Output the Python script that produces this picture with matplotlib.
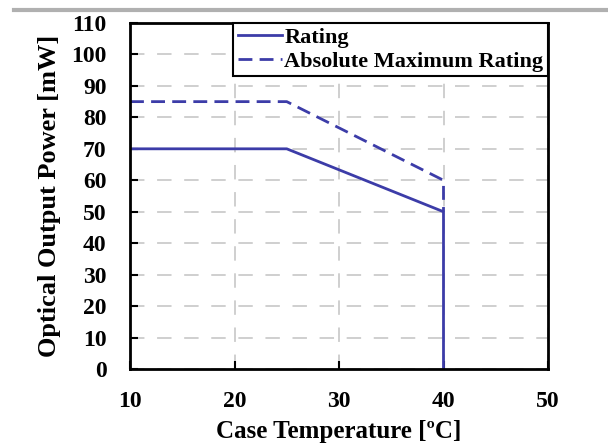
import matplotlib
matplotlib.use("Agg")
import matplotlib.pyplot as plt
from matplotlib.lines import Line2D

temp_rating = [10, 25, 40, 40]
power_rating = [70, 70, 50, 0]
temp_absmax = [10, 25, 40, 40]
power_absmax = [85, 85, 60, 50]
xticks = [10, 20, 30, 40, 50]
yticks = [0, 10, 20, 30, 40, 50, 60, 70, 80, 90, 100, 110]
labels = ["Rating", "Absolute Maximum Rating"]

plt.rcParams['font.family'] = ['Liberation Serif', 'DejaVu Serif']
plt.rcParams['font.weight'] = 'bold'

fig = plt.figure(figsize=(6.08, 4.47), dpi=100)
ax = fig.add_axes([130/608, 1-369/447, 418/608, 346/447])

color = '#3c3ca8'
ax.plot(temp_rating, power_rating, color=color, lw=2.0, label=labels[0])
ax.plot(temp_absmax, power_absmax, color=color, lw=2.0, ls=(0, (5.0, 2.6)), label=labels[1])

ax.set_xlim(10, 50)
ax.set_ylim(0, 110)
ax.set_xticks(xticks)
ax.set_yticks(yticks)
ax.grid(True, color='#cccccc', ls=(0, (8, 7)), lw=1.3)
ax.set_axisbelow(True)
ax.tick_params(direction='in', length=6, width=1.5, labelsize=17)
ax.tick_params(axis='x', pad=16)
ax.tick_params(axis='y', pad=17)
for lab in ax.get_xticklabels() + ax.get_yticklabels():
    lab.set_fontweight('bold')
for s in ax.spines.values():
    s.set_linewidth(2.0)

ax.set_xlabel("Case Temperature [ºC]", fontsize=18, fontweight='bold')
ax.xaxis.set_label_coords(0.5, -0.146)
ax.set_ylabel("Optical Output Power [mW]", fontsize=19, fontweight='bold')
ax.yaxis.set_label_coords(-0.165, 0.5)

leg = ax.legend(loc='upper right', borderaxespad=0, fancybox=False, framealpha=1,
                edgecolor='black', prop={'weight': 'bold', 'size': 16},
                handlelength=2.0, handletextpad=0.1, borderpad=0.2, labelspacing=0.15)
leg.get_frame().set_linewidth(1.5)

fig.add_artist(Line2D([14/608, 1], [1-10/447, 1-10/447], color='#b0b0b0', lw=3,
                      transform=fig.transFigure))

fig.savefig("out.png", dpi=100)
